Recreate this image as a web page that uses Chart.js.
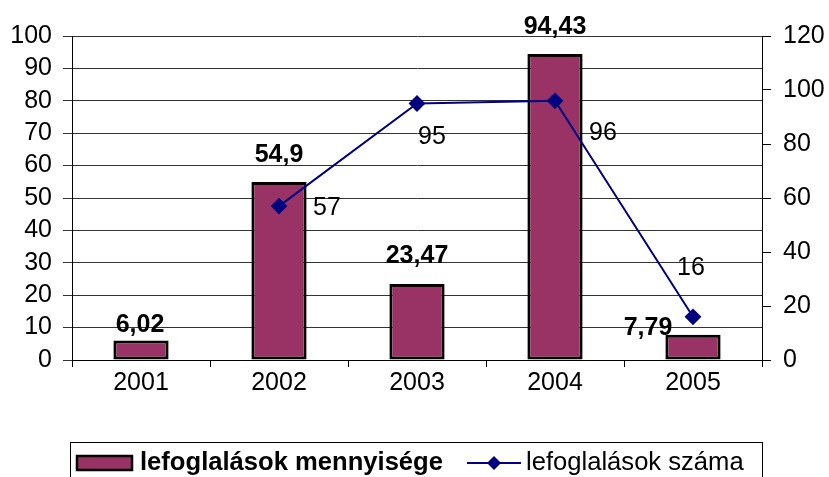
<!DOCTYPE html>
<html>
<head>
<meta charset="utf-8">
<script src="https://cdn.jsdelivr.net/npm/chart.js@4/dist/chart.umd.min.js"></script>
<style>
  html, body { margin: 0; padding: 0; background: #fff; }
  #wrap { width: 829px; height: 477px; position: relative; }
</style>
</head>
<body>
<div id="wrap"><canvas id="chart"></canvas></div>
<script>
// data
const years = ['2001', '2002', '2003', '2004', '2005'];
const amount = [6.02, 54.9, 23.47, 94.43, 7.79];       // lefoglalások mennyisége (left axis)
const count = [null, 57, 95, 96, 16];                   // lefoglalások száma (right axis)
const amountLabels = ['6,02', '54,9', '23,47', '94,43', '7,79'];
const countLabels = ['', '57', '95', '96', '16'];

// label placement (dx from mark centre, dy from mark top / point)
const barLabelPos = [[-1, -8], [0, -20], [0, -21], [0, -20], [-45, 0]];
const lineLabelPos = [[0, 0], [48, 9], [15, 40], [48, 39], [-2, -42]];

const FONT = '"Liberation Sans", Arial, sans-serif';
const SIZE = 25;

const labelPlugin = {
  id: 'valueLabels',
  afterDatasetsDraw(chart) {
    const ctx = chart.ctx;
    ctx.save();
    ctx.fillStyle = '#000';
    ctx.textAlign = 'center';
    ctx.textBaseline = 'alphabetic';
    ctx.font = 'bold ' + SIZE + 'px ' + FONT;
    chart.getDatasetMeta(0).data.forEach((bar, i) => {
      const [dx, dy] = barLabelPos[i];
      ctx.fillText(amountLabels[i], bar.x + dx, bar.y + dy);
    });
    ctx.font = SIZE + 'px ' + FONT;
    chart.getDatasetMeta(1).data.forEach((pt, i) => {
      if (count[i] == null) return;
      const [dx, dy] = lineLabelPos[i];
      ctx.fillText(countLabels[i], pt.x + dx, pt.y + dy);
    });
    ctx.restore();
  }
};

// legend drawn by hand: first entry bold, second normal
const legendPlugin = {
  id: 'boxLegend',
  afterDraw(chart) {
    const ctx = chart.ctx;
    const ds = chart.data.datasets;
    ctx.save();
    ctx.strokeStyle = '#000';
    ctx.lineWidth = 1;
    ctx.strokeRect(70.5, 442.5, 692, 60);
    const cy = 463;
    // bar swatch
    ctx.fillStyle = ds[0].backgroundColor;
    ctx.fillRect(77, cy - 7, 55, 14);
    ctx.lineWidth = 2.5;
    ctx.strokeRect(77, cy - 7, 55, 14);
    ctx.fillStyle = '#000';
    ctx.textBaseline = 'middle';
    ctx.textAlign = 'left';
    ctx.font = 'bold 25.6px ' + FONT;
    ctx.fillText(ds[0].label, 140, cy);
    // line swatch
    ctx.strokeStyle = ds[1].borderColor;
    ctx.lineWidth = 2;
    ctx.beginPath();
    ctx.moveTo(467, cy);
    ctx.lineTo(521, cy);
    ctx.stroke();
    ctx.fillStyle = ds[1].borderColor;
    ctx.beginPath();
    ctx.moveTo(494, cy - 7);
    ctx.lineTo(501, cy);
    ctx.lineTo(494, cy + 7);
    ctx.lineTo(487, cy);
    ctx.closePath();
    ctx.fill();
    ctx.fillStyle = '#000';
    ctx.font = '25.6px ' + FONT;
    ctx.fillText(ds[1].label, 526, cy);
    ctx.restore();
  }
};

new Chart(document.getElementById('chart'), {
  data: {
    labels: years,
    datasets: [
      {
        type: 'bar',
        label: 'lefoglalások mennyisége',
        data: amount,
        backgroundColor: '#993366',
        borderColor: '#000',
        borderWidth: 3,
        borderSkipped: false,
        barPercentage: 0.4,
        categoryPercentage: 1,
        yAxisID: 'y',
        order: 2
      },
      {
        type: 'line',
        label: 'lefoglalások száma',
        data: count,
        borderColor: '#000080',
        backgroundColor: '#000080',
        borderWidth: 2,
        pointStyle: 'rectRot',
        pointRadius: 7,
        pointHoverRadius: 7,
        tension: 0,
        yAxisID: 'y2',
        order: 1
      }
    ]
  },
  options: {
    responsive: true,
    maintainAspectRatio: false,
    animation: false,
    events: [],
    layout: { padding: { top: 36, left: 0, right: 0, bottom: 77 } },
    plugins: {
      legend: { display: false },
      tooltip: { enabled: false }
    },
    scales: {
      x: {
        offset: true,
        grid: { offset: true, drawOnChartArea: false, color: '#000', tickLength: 7 },
        border: { color: '#000', width: 1 },
        ticks: { color: '#000', font: { family: FONT, size: SIZE }, padding: 1, autoSkip: false, maxRotation: 0 },
        afterFit(s) { s.height = 40; }
      },
      y: {
        position: 'left',
        min: 0,
        max: 100,
        ticks: { stepSize: 10, autoSkip: false, color: '#000', font: { family: FONT, size: SIZE }, padding: 11 },
        grid: { color: '#333', tickLength: 9 },
        border: { color: '#000', width: 1 },
        afterFit(s) { s.width = 72; }
      },
      y2: {
        position: 'right',
        min: 0,
        max: 120,
        ticks: { stepSize: 20, autoSkip: false, color: '#000', font: { family: FONT, size: SIZE }, padding: 12 },
        grid: { drawOnChartArea: false, color: '#000', tickLength: 9 },
        border: { color: '#000', width: 1 },
        afterFit(s) { s.width = 67; }
      }
    }
  },
  plugins: [labelPlugin, legendPlugin]
});
</script>
</body>
</html>
